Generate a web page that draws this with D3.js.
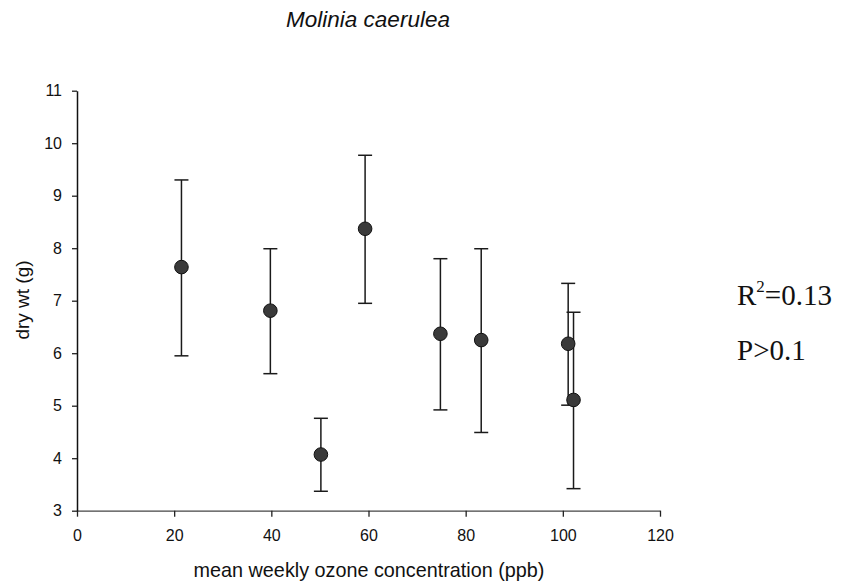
<!DOCTYPE html>
<html>
<head>
<meta charset="utf-8">
<script src="https://cdn.jsdelivr.net/npm/d3@7"></script>
<style>
  html, body { margin: 0; padding: 0; background: #fff; }
  svg { display: block; }
</style>
</head>
<body>
<svg id="chart" width="846" height="587"></svg>
<script>
// Mean weekly ozone concentration (ppb) and plant dry weight (g), with error ranges
const ozone   = [21.5, 39.8, 50.2, 59.3, 74.8, 83.2, 101.1, 102.2];
const dryWt   = [7.64, 6.81, 4.07, 8.37, 6.37, 6.25, 6.18, 5.11];
const errHigh = [9.30, 7.99, 4.76, 9.77, 7.80, 7.99, 7.33, 6.78];
const errLow  = [5.95, 5.61, 3.37, 6.95, 4.92, 4.49, 5.01, 3.42];
const xTicks  = [0, 20, 40, 60, 80, 100, 120];
const yTicks  = [3, 4, 5, 6, 7, 8, 9, 10, 11];

const svg = d3.select("#chart");
const plotLeft = 77, plotRight = 660, plotTop = 90.7, plotBottom = 510.7;
const sans = "Liberation Sans, Arial, sans-serif";

const x = d3.scaleLinear().domain([0, 120]).range([plotLeft, plotRight]);
const y = d3.scaleLinear().domain([3, 11]).range([plotBottom, plotTop]);

// Axes
const xAxis = svg.append("g")
  .attr("transform", `translate(0,${plotBottom})`)
  .call(d3.axisBottom(x).tickValues(xTicks).tickSize(6).tickPadding(13).tickSizeOuter(0));
xAxis.select(".domain").attr("stroke", "#444").attr("stroke-width", 1.3);
xAxis.selectAll(".tick line").attr("stroke", "#222").attr("stroke-width", 1.3);

const yAxis = svg.append("g")
  .attr("transform", `translate(${plotLeft},0)`)
  .call(d3.axisLeft(y).tickValues(yTicks).tickSize(5).tickPadding(10).tickSizeOuter(0));
yAxis.select(".domain").attr("stroke", "#111").attr("stroke-width", 1.5);
yAxis.selectAll(".tick line").attr("stroke", "#222").attr("stroke-width", 1.3);

svg.selectAll(".tick text")
  .style("font-family", sans)
  .style("font-size", "16px")
  .attr("fill", "#111");

// Error bars
const capHalf = 7;
const bars = svg.append("g").attr("stroke", "#1a1a1a").attr("stroke-width", 1.5);
ozone.forEach((o, i) => {
  const cx = x(o);
  bars.append("line").attr("x1", cx).attr("x2", cx).attr("y1", y(errHigh[i])).attr("y2", y(errLow[i]));
  bars.append("line").attr("x1", cx - capHalf).attr("x2", cx + capHalf).attr("y1", y(errHigh[i])).attr("y2", y(errHigh[i]));
  bars.append("line").attr("x1", cx - capHalf).attr("x2", cx + capHalf).attr("y1", y(errLow[i])).attr("y2", y(errLow[i]));
});

// Points
svg.append("g").selectAll("circle")
  .data(ozone)
  .join("circle")
  .attr("cx", d => x(d))
  .attr("cy", (d, i) => y(dryWt[i]))
  .attr("r", 6.8)
  .attr("fill", "#3a3a3a")
  .attr("stroke", "#111")
  .attr("stroke-width", 1);

// Titles
svg.append("text")
  .attr("x", 368).attr("y", 27)
  .attr("text-anchor", "middle")
  .style("font-family", sans)
  .style("font-style", "italic")
  .style("font-size", "22.5px")
  .attr("fill", "#111")
  .text("Molinia caerulea");

svg.append("text")
  .attr("x", 369).attr("y", 577)
  .attr("text-anchor", "middle")
  .style("font-family", sans)
  .style("font-size", "19.8px")
  .attr("fill", "#111")
  .text("mean weekly ozone concentration (ppb)");

svg.append("text")
  .attr("transform", "translate(29,300) rotate(-90)")
  .attr("text-anchor", "middle")
  .style("font-family", sans)
  .style("font-size", "19px")
  .attr("fill", "#111")
  .text("dry wt (g)");

// Fit statistics
const stats = svg.append("g")
  .style("font-family", "Liberation Serif, Times New Roman, serif")
  .style("font-size", "29px")
  .attr("fill", "#111");
const r2 = stats.append("text").attr("x", 737).attr("y", 305);
r2.append("tspan").text("R");
r2.append("tspan").style("font-size", "17px").attr("dy", -13).text("2");
r2.append("tspan").attr("dy", 13).text("=0.13");
stats.append("text").attr("x", 737).attr("y", 360).text("P>0.1");
</script>
</body>
</html>
